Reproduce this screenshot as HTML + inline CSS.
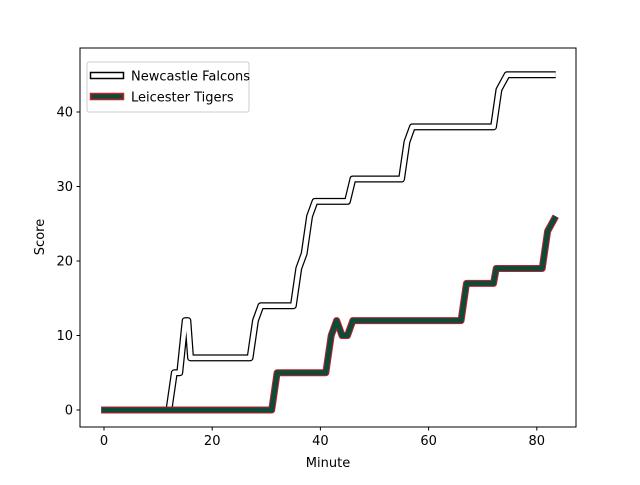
<!DOCTYPE html>
<html><head><meta charset="utf-8"><style>
body{margin:0;background:#fff;font-family:"Liberation Sans","DejaVu Sans",sans-serif}
svg text{font-family:"DejaVu Sans","Liberation Sans",sans-serif;font-size:13px;fill:#000}
</style></head><body>
<svg id="chart" width="640" height="480">
<rect x="80" y="48" width="496" height="379" fill="#fff" stroke="none"/>
<g id="series"></g>
<rect x="80" y="48" width="496" height="379" fill="none" stroke="#000" stroke-width="1"/>
<g id="xt"></g><g id="yt"></g>
<text x="328" y="467" text-anchor="middle">Minute</text>
<text transform="translate(44,237) rotate(-90)" text-anchor="middle">Score</text>
<g>
<rect x="87" y="62" width="162" height="50" rx="2" fill="#fff" fill-opacity="0.8" stroke="#ccc"/>
<g>
<rect x="90.5" y="72.5" width="33" height="6" fill="#fff" stroke="#000" stroke-width="1.5"/>
<text x="131" y="80.5">Newcastle Falcons</text></g>
<g>
<rect x="90.5" y="93.5" width="33" height="6" fill="#0d4a38" stroke="#c0202a" stroke-width="1.5"/>
<text x="131" y="101.5">Leicester Tigers</text></g>
</g>
</svg>
<script>
const newcastleMin=[-0.5,12,13,14,15,15.5,16,27,28,29,35,36,37,38,39,45,46,55,56,57,72,73,74.5,83.5];
const newcastleScore=[0,0,5,5,12,12,7,7,12,14,14,19,21,26,28,28,31,31,36,38,38,43,45,45];
const leicesterMin=[-0.5,31,32,41,42,43,44,45,46,66,67,72,72.5,81,82,83.5];
const leicesterScore=[0,0,5,5,10,12,10,10,12,12,17,17,19,19,24,26];
const xTicks=[0,20,40,60,80];
const yTicks=[0,10,20,30,40];
const X=v=>104+v*5.41, Y=v=>410-v*7.45;
const NS='http://www.w3.org/2000/svg';
function mk(t,a,p){const e=document.createElementNS(NS,t);for(const k in a)e.setAttribute(k,a[k]);p.appendChild(e);return e;}
const S=document.getElementById('series');
function pts(m,s){return m.map((v,i)=>X(v)+','+Y(s[i])).join(' ');}
const g1=mk('g',{},S);


mk('polyline',{points:pts(newcastleMin,newcastleScore),fill:'none',stroke:'#000','stroke-width':7,'stroke-linejoin':'round'},g1);
mk('polyline',{points:pts(newcastleMin,newcastleScore),fill:'none',stroke:'#fff','stroke-width':4.5,'stroke-linejoin':'round'},g1);
const g2=mk('g',{},S);


mk('polyline',{points:pts(leicesterMin,leicesterScore),fill:'none',stroke:'#c0202a','stroke-width':7,'stroke-linejoin':'round'},g2);
mk('polyline',{points:pts(leicesterMin,leicesterScore),fill:'none',stroke:'#0d4a38','stroke-width':5,'stroke-linejoin':'round'},g2);
const xt=document.getElementById('xt');
xTicks.forEach(v=>{const x=X(v);
const l=mk('line',{x1:x,x2:x,y1:427,y2:430.5,stroke:'#000'},xt);


const t=mk('text',{x:x,y:445,'text-anchor':'middle'},xt);t.textContent=v;

});
const yt=document.getElementById('yt');
yTicks.forEach(v=>{const y=Y(v);
const l=mk('line',{x1:76.5,x2:80,y1:y,y2:y,stroke:'#000'},yt);


const t=mk('text',{x:73,y:y+4.5,'text-anchor':'end'},yt);t.textContent=v;

});
</script>
</body></html>
